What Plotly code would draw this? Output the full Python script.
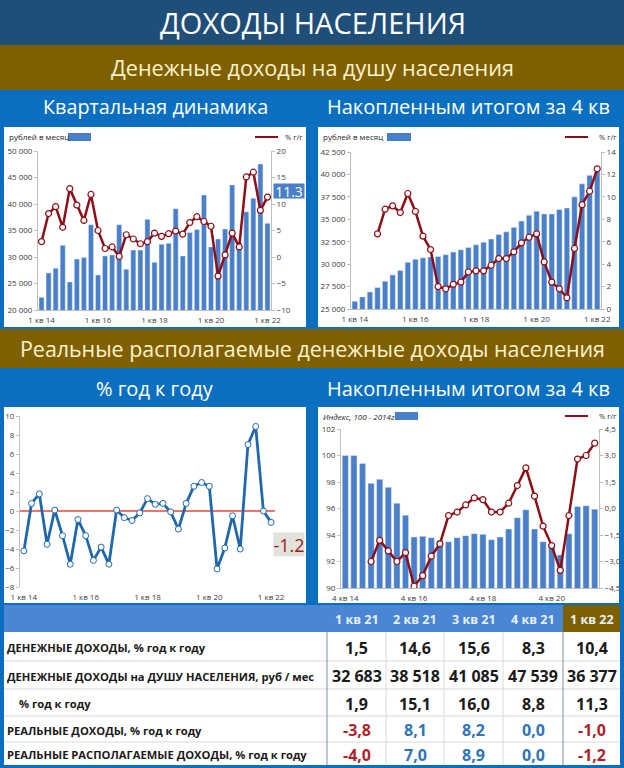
import plotly.graph_objects as go

# ---------------- data ----------------
quarters = [f"{q} кв {y}" for y in range(14, 22) for q in range(1, 5)] + ["1 кв 22"]
quarters_idx = quarters[3:]  # 4 кв 14 ... 1 кв 22

ticks_q = ["1 кв 14", "1 кв 16", "1 кв 18", "1 кв 20", "1 кв 22"]
ticks_idx = ["4 кв 14", "4 кв 16", "4 кв 18", "4 кв 20"]

# per-capita money income, rub per month, quarterly
income_q = [22400, 27000, 27900, 32200, 25300, 29600, 29900, 36100, 26600, 30200, 30400,
            36100, 27700, 31300, 31300, 37100, 29000, 32400, 32600, 39100, 30200, 34600,
            35200, 41700, 31900, 33400, 35300, 43600, 32683, 38518, 41085, 47539, 36377]
income_q_yoy = [2.9, 8.2, 9.5, 5.6, 12.9, 9.8, 6.9, 11.8, 5.0, 1.6, 1.9, 0.1, 4.2, 3.4, 2.5,
                2.9, 4.5, 3.9, 4.4, 4.9, 4.3, 6.5, 7.6, 6.7, 5.8, -3.6, 0.4, 4.5, 1.9, 15.1,
                16.0, 8.8, 11.3]

# per-capita money income, rolling 4 quarters
income_4q = [25850, 26350, 26900, 27400, 28100, 28800, 29300, 30200, 30550, 30700, 30800,
             30850, 31050, 31350, 31600, 31850, 32150, 32450, 32800, 33300, 33600, 34100,
             34800, 35450, 35900, 35600, 35600, 36100, 36250, 37500, 38950, 39900, 40800]
income_4q_yoy = [None, None, None, 6.7, 8.9, 9.2, 8.6, 10.3, 8.7, 6.5, 5.3, 2.0, 1.8, 2.2,
                 2.4, 3.3, 3.4, 3.4, 3.9, 4.5, 4.5, 5.1, 5.9, 6.4, 6.7, 4.2, 2.4, 1.8, 1.0,
                 5.4, 9.3, 10.5, 12.5]

# real disposable money income, % y/y, quarterly
real_disp_yoy = [-4.2, 0.8, 1.8, -3.5, 0.1, -2.6, -5.6, -0.9, -2.6, -5.2, -3.8, -5.6, 0.1,
                 -0.7, -1.0, -0.2, 1.3, 0.7, 0.8, -0.1, -1.9, 0.8, 2.6, 3.0, 2.6, -6.1,
                 -3.9, -0.5, -4.0, 7.0, 8.9, 0.0, -1.2]

# real disposable income, rolling 4 quarters: index (2014 = 100) and % y/y
real_index = [100.0, 100.0, 99.4, 97.9, 98.2, 97.6, 96.4, 95.5, 93.85, 93.9, 93.8, 93.6,
              93.5, 93.8, 93.95, 94.1, 94.05, 93.65, 93.85, 94.45, 95.3, 95.9, 94.45, 93.5,
              93.3, 92.5, 94.1, 96.15, 96.2, 95.95]
real_index_yoy = [None, None, None, -3.0, -1.8, -2.4, -3.0, -2.5, -4.4, -3.8, -2.7, -2.0,
                  -0.4, -0.2, 0.2, 0.6, 0.5, -0.2, -0.2, 0.3, 1.3, 2.3, 0.7, -1.0, -2.1,
                  -3.5, -0.4, 2.8, 3.0, 3.7]

# table
table_cols = ["1 кв 21", "2 кв 21", "3 кв 21", "4 кв 21", "1 кв 22"]
table_rows = ["ДЕНЕЖНЫЕ ДОХОДЫ, % год к году",
              "ДЕНЕЖНЫЕ ДОХОДЫ на ДУШУ НАСЕЛЕНИЯ, руб / мес",
              "% год к году",
              "РЕАЛЬНЫЕ ДОХОДЫ, % год к году",
              "РЕАЛЬНЫЕ РАСПОЛАГАЕМЫЕ ДОХОДЫ, % год к году"]
t_nominal_yoy = [1.5, 14.6, 15.6, 8.3, 10.4]
t_per_capita = [32683, 38518, 41085, 47539, 36377]
t_per_capita_yoy = [1.9, 15.1, 16.0, 8.8, 11.3]
t_real_yoy = [-3.8, 8.1, 8.2, 0.0, -1.0]
t_real_disp_yoy = [-4.0, 7.0, 8.9, 0.0, -1.2]

# ---------------- style ----------------
W, H = 624, 768
BG_BLUE = "#0A6FC0"
DARK_BLUE = "#1F4E79"
GOLD = "#7F6000"
HDR_BLUE = "#4A86D4"
BAR = "#4A7FC9"
RED = "#8E0E17"
LINE_BLUE = "#1F68AE"
AXC = "#BFBFBF"
TXT = "#404040"
NEG = "#B0232B"
POS = "#2E75B6"
F = "Open Sans"


def px(x):
    return x / W


def py(y):
    return 1 - y / H


def fmt1(v):
    return f"{v:.1f}".replace(".", ",")


def fmt_int(v):
    return f"{v:,}".replace(",", " ")


fig = go.Figure()

mk_red = dict(size=6, color="white", line=dict(color=RED, width=1.2))
# chart 1
fig.add_trace(go.Bar(x=quarters, y=income_q, marker_color=BAR, width=0.72,
                     xaxis="x", yaxis="y", showlegend=False))
fig.add_trace(go.Scatter(x=quarters, y=income_q_yoy, mode="lines+markers", xaxis="x", yaxis="y2",
                         line=dict(color=RED, width=2.5), marker=mk_red, showlegend=False))
# chart 2
fig.add_trace(go.Bar(x=quarters, y=income_4q, marker_color=BAR, width=0.72,
                     xaxis="x2", yaxis="y3", showlegend=False))
fig.add_trace(go.Scatter(x=quarters, y=income_4q_yoy, mode="lines+markers", xaxis="x2", yaxis="y4",
                         line=dict(color=RED, width=2.5), marker=mk_red, showlegend=False))
# chart 3
fig.add_trace(go.Scatter(x=quarters, y=real_disp_yoy, mode="lines+markers", xaxis="x3", yaxis="y5",
                         line=dict(color=LINE_BLUE, width=2.8),
                         marker=dict(size=6, color="white", line=dict(color=LINE_BLUE, width=1)),
                         showlegend=False))
# chart 4
fig.add_trace(go.Bar(x=quarters_idx, y=real_index, marker_color=BAR, width=0.72,
                     xaxis="x4", yaxis="y6", showlegend=False))
fig.add_trace(go.Scatter(x=quarters_idx, y=real_index_yoy, mode="lines+markers", xaxis="x4", yaxis="y7",
                         line=dict(color=RED, width=2.5), marker=mk_red, showlegend=False))

# ---------------- layout ----------------
tickfont = dict(family=F, size=8, color=TXT)


def xax(d0, d1, anchor, vals, n, standoff=2):
    return dict(domain=[px(d0), px(d1)], anchor=anchor, type="category", automargin=False,
                range=[-0.5, n - 0.5], tickmode="array", tickvals=vals, ticktext=vals,
                showline=True, linecolor=AXC, linewidth=1, ticks="", showgrid=False,
                zeroline=False, tickfont=tickfont, fixedrange=True, ticklabelstandoff=standoff)


def yax(y0, y1, anchor, rng, dtick, fmt=None, side="left", overlay=None):
    d = dict(anchor=anchor, range=rng, dtick=dtick, tick0=rng[0], showline=True,
             automargin=False,
             linecolor=AXC, linewidth=1, ticks="outside", ticklen=3, tickcolor=AXC,
             showgrid=False, zeroline=False, tickfont=tickfont, side=side, fixedrange=True)
    if overlay:
        d["overlaying"] = overlay
    else:
        d["domain"] = [py(y1), py(y0)]
    if fmt:
        d["tickformat"] = fmt
    return d


layout = dict(
    width=W, height=H, autosize=False,
    margin=dict(l=0, r=0, t=0, b=0, pad=0),
    paper_bgcolor=BG_BLUE, plot_bgcolor="rgba(0,0,0,0)",
    separators=", ",
    font=dict(family=F),
    xaxis=xax(38, 271, "y", ticks_q, 33),
    yaxis=yax(151, 310, "x", [20000, 50000], 5000, ",d"),
    yaxis2=yax(0, 0, "x", [-10, 20], 5, None, "right", "y"),
    xaxis2=xax(351, 601, "y3", ticks_q, 33),
    yaxis3=yax(152, 309, "x2", [25000, 42500], 2500, ",d"),
    yaxis4=yax(0, 0, "x2", [0, 14], 2, None, "right", "y3"),
    xaxis3=xax(20, 275, "y5", ticks_q, 33, 4),
    yaxis5=yax(416, 587, "x3", [-8, 10], 2),
    xaxis4=xax(341, 599, "y6", ticks_idx, 30),
    yaxis6=yax(429, 588, "x4", [90, 102], 2),
    yaxis7=yax(0, 0, "x4", [-4.5, 4.5], 1.5, ".1f", "right", "y6"),
)
layout["xaxis3"]["showline"] = False

shapes = []


def rect(x0, y0, x1, y1, color, layer="below"):
    shapes.append(dict(type="rect", xref="paper", yref="paper", x0=px(x0), x1=px(x1),
                       y0=py(y1), y1=py(y0), fillcolor=color, line=dict(width=0), layer=layer))


def hline(x0, x1, y, color, width=1):
    shapes.append(dict(type="line", xref="paper", yref="paper", x0=px(x0), x1=px(x1),
                       y0=py(y), y1=py(y), line=dict(color=color, width=width)))


def vline(x, y0, y1, color, width=1):
    shapes.append(dict(type="line", xref="paper", yref="paper", x0=px(x), x1=px(x),
                       y0=py(y0), y1=py(y1), line=dict(color=color, width=width)))


rect(0, 0, W, 45, DARK_BLUE)
rect(0, 45, W, 90, GOLD)
rect(0, 329, W, 368, GOLD)
for (x0, y0, x1, y1) in [(4, 127, 306, 327), (318, 127, 619, 327),
                         (4, 407, 306, 603), (318, 407, 619, 603)]:
    rect(x0, y0, x1, y1, "white")

# zero line of the y/y chart
shapes.append(dict(type="line", xref="x3 domain", yref="y5", x0=0, x1=1, y0=0, y1=0,
                   line=dict(color="#E8473C", width=1.4), layer="below"))

# legend keys
rect(68, 133, 91, 141, BAR, "above")
rect(387, 133, 411, 141, BAR, "above")
rect(395, 412, 418, 420, BAR, "above")
for (x0, x1, y) in [(255, 278, 137), (565, 588, 137), (565, 588, 416)]:
    hline(x0, x1, y, RED, 2)

# ---- table ----
col_edges = [4, 327, 386, 444, 503, 563, 620]
row_edges = [605, 632, 661, 689, 716, 742, 765]
rect(col_edges[0], row_edges[0], col_edges[-1], row_edges[1], HDR_BLUE)
rect(col_edges[5], row_edges[0], col_edges[6], row_edges[1], GOLD)
rect(col_edges[0], row_edges[1], col_edges[-1], row_edges[-1], "white")
for y in row_edges[2:-1]:
    hline(col_edges[0], col_edges[-1], y, "#D9D9D9")
for x in col_edges[2:5]:
    vline(x, row_edges[1], row_edges[-1], "#D9D9D9")
vline(col_edges[1], row_edges[1], row_edges[-1], "#7F8FA6")
vline(col_edges[5], row_edges[1], row_edges[-1], "#7F8FA6")

layout["shapes"] = shapes

ann = []


def text(x, y, s, size, color, anchor="center", family=F, **kw):
    ann.append(dict(xref="paper", yref="paper", x=px(x), y=py(y), text=s, showarrow=False,
                    xanchor=anchor, yanchor="middle",
                    font=dict(family=family, size=size, color=color), **kw))


text(313, 23, "ДОХОДЫ НАСЕЛЕНИЯ", 29, "white")
text(312, 68, "Денежные доходы на душу населения", 21.6, "#FFF2CC")
text(155, 107, "Квартальная динамика", 19.8, "white")
text(468, 107, "Накопленным итогом за 4 кв", 20, "white")
text(312, 349, "Реальные располагаемые денежные доходы населения", 21.4, "#FFF2CC")
text(155, 388, "% год к году", 20, "white")
text(468, 388, "Накопленным итогом за 4 кв", 20, "white")

# legend texts
text(7, 137, "рублей в месяц", 8, "#262626", "left")
text(283, 137, "% г/г", 7.5, "#262626", "left")
text(321, 137, "рублей в месяц", 8, "#262626", "left")
text(597, 137, "% г/г", 7.5, "#262626", "left")
text(321, 416, "<i>Индекс, 100 - 2014г</i>", 8, "#262626", "left")
text(597, 416, "% г/г", 7.5, "#262626", "left")

# latest-value call-outs
text(289, 190.5, "11.3", 14, "white", bgcolor="#4A7FC9", borderpad=0, width=30, height=14)
text(289, 544, "-1.2", 18, "#9C1B1B", bgcolor="#E2E2DC", borderpad=0, width=30, height=23)

# table texts
centers = [(col_edges[i] + col_edges[i + 1]) / 2 for i in range(1, 6)]
rcent = [(row_edges[i] + row_edges[i + 1]) / 2 for i in range(1, 6)]
for c, name in zip(centers, table_cols):
    text(c, (row_edges[0] + row_edges[1]) / 2 + 1, f"<b>{name}</b>", 12.5, "#E6F0FA")
for j, name in enumerate(table_rows):
    text(17 if j == 2 else 5, rcent[j] + 1, f"<b>{name}</b>", 11.2, "#1A1A1A", "left")
rows_vals = [
    [(fmt1(v), "#1A1A1A") for v in t_nominal_yoy],
    [(fmt_int(v), "#1A1A1A") for v in t_per_capita],
    [(fmt1(v), "#1A1A1A") for v in t_per_capita_yoy],
    [(fmt1(v), NEG if v < 0 else POS) for v in t_real_yoy],
    [(fmt1(v), NEG if v < 0 else POS) for v in t_real_disp_yoy],
]
for j, row in enumerate(rows_vals):
    for c, (s, col) in zip(centers, row):
        text(c, rcent[j] + 1, f"<b>{s}</b>", 16, col)

layout["annotations"] = ann
fig.update_layout(**layout)

fig.write_html("out.html", config={"displayModeBar": False},
               post_script="document.body.style.margin='0';document.body.style.overflow='hidden';")
